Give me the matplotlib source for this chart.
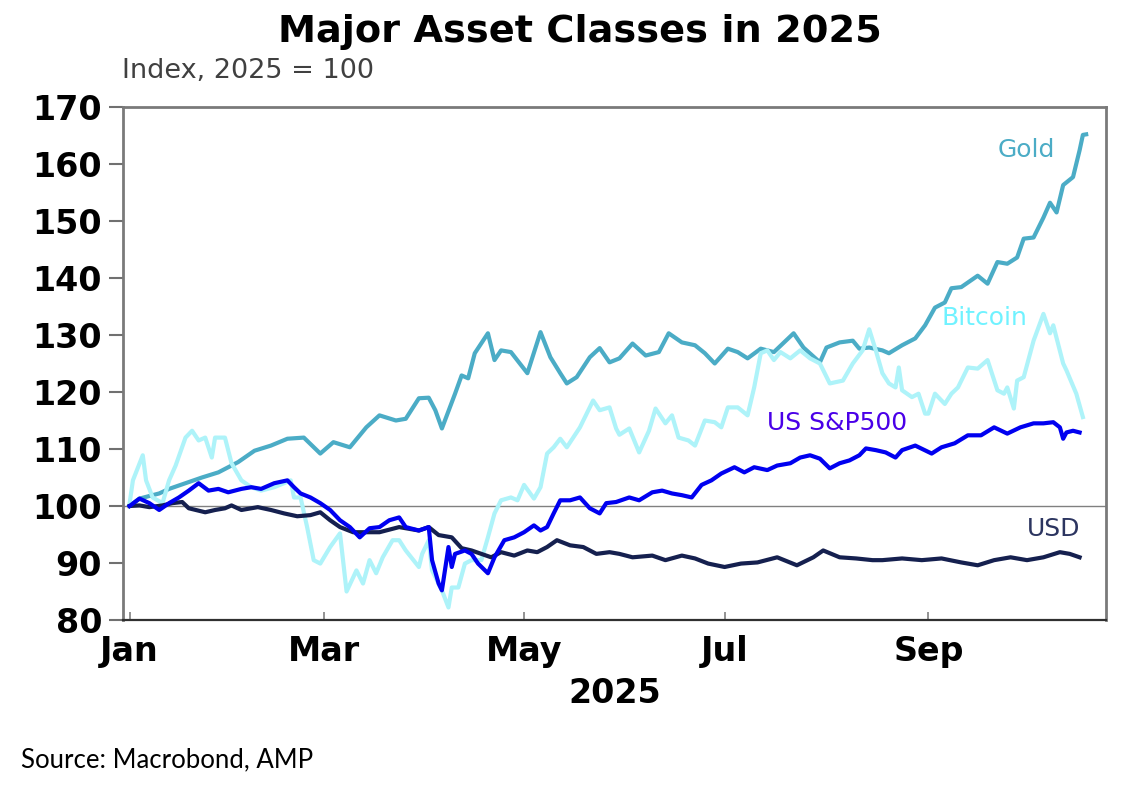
import matplotlib
matplotlib.use("Agg")
import matplotlib.pyplot as plt
import pandas as pd

# values (index, start of 2025 = 100)
gold_dates = ["01-01", "01-04", "01-10", "01-13", "01-18", "01-23", "01-28", "02-03", "02-08",
              "02-13", "02-18", "02-23", "02-28", "03-04", "03-09", "03-14", "03-18", "03-23",
              "03-26", "03-30", "04-02", "04-04", "04-06", "04-10", "04-12", "04-14", "04-16",
              "04-20", "04-22", "04-24", "04-27", "05-02", "05-06", "05-09", "05-12", "05-14",
              "05-17", "05-21", "05-24", "05-27", "05-30", "06-03", "06-07", "06-11", "06-14",
              "06-18", "06-22", "06-25", "06-28", "07-02", "07-05", "07-08", "07-12", "07-16",
              "07-22", "07-25", "07-30", "08-01", "08-05", "08-09", "08-11", "08-14", "08-18",
              "08-20", "08-24", "08-28", "08-31", "09-03", "09-06", "09-08", "09-11", "09-16",
              "09-19", "09-22", "09-25", "09-28", "09-30", "10-03", "10-06", "10-08", "10-10",
              "10-12", "10-15", "10-17", "10-18", "10-19"]
gold = [100.0, 101.3, 102.2, 103.0, 104.0, 105.0, 105.9, 107.7, 109.7,
        110.6, 111.8, 112.0, 109.2, 111.2, 110.3, 113.8, 115.9, 115.0,
        115.3, 118.9, 119.0, 116.8, 113.6, 119.7, 122.9, 122.4, 126.8,
        130.3, 125.6, 127.3, 127.0, 123.3, 130.5, 126.1, 123.3, 121.5,
        122.6, 126.1, 127.7, 125.2, 125.9, 128.5, 126.4, 127.0, 130.3,
        128.7, 128.2, 126.8, 125.0, 127.6, 127.0, 125.9, 127.6, 127.0,
        130.3, 127.8, 125.2, 127.8, 128.7, 129.0, 127.6, 127.8, 127.3,
        126.8, 128.2, 129.4, 131.7, 134.8, 135.7, 138.2, 138.4, 140.4,
        139.0, 142.8, 142.5, 143.6, 146.9, 147.1, 150.6, 153.2, 151.5,
        156.3, 157.7, 162.4, 165.1, 165.2]

btc_dates = ["01-01", "01-02", "01-05", "01-06", "01-08", "01-11", "01-13", "01-15", "01-18",
             "01-20", "01-22", "01-24", "01-26", "01-27", "01-30", "02-01", "02-04", "02-07",
             "02-10", "02-14", "02-17", "02-19", "02-20", "02-22", "02-24", "02-26", "02-28",
             "03-03", "03-06", "03-08", "03-11", "03-13", "03-15", "03-17", "03-19", "03-22",
             "03-24", "03-26", "03-30", "03-31", "04-02", "04-03", "04-06", "04-08", "04-09",
             "04-11", "04-13", "04-15", "04-18", "04-20", "04-22", "04-24", "04-27", "04-29",
             "05-01", "05-04", "05-06", "05-08", "05-10", "05-12", "05-14", "05-18", "05-22",
             "05-24", "05-27", "05-29", "05-30", "06-02", "06-05", "06-08", "06-10", "06-13",
             "06-15", "06-17", "06-20", "06-22", "06-25", "06-28", "06-30", "07-02", "07-05",
             "07-08", "07-10", "07-12", "07-14", "07-16", "07-18", "07-21", "07-24", "07-27",
             "07-30", "08-02", "08-06", "08-09", "08-12", "08-14", "08-16", "08-18", "08-20",
             "08-22", "08-23", "08-24", "08-27", "08-29", "08-31", "09-01", "09-03", "09-06",
             "09-08", "09-10", "09-13", "09-16", "09-19", "09-22", "09-24", "09-25", "09-27",
             "09-28", "09-30", "10-03", "10-06", "10-08", "10-09", "10-12", "10-13", "10-16",
             "10-18"]
btc = [100.5, 104.5, 108.9, 104.5, 101.5, 100.5, 104.5, 107.1, 112.0,
       113.2, 111.5, 112.0, 108.5, 112.0, 112.0, 107.5, 104.5, 103.3,
       102.7, 103.3, 104.0, 104.5, 101.5, 101.5, 96.3, 90.5, 89.9,
       92.8, 95.2, 85.0, 88.7, 86.4, 90.5, 88.2, 91.0, 94.0,
       94.0, 92.2, 89.3, 91.6, 94.0, 88.7, 85.2, 82.2, 85.7,
       85.7, 89.9, 90.5, 90.5, 94.5, 98.7, 101.0, 101.5, 101.0,
       103.7, 101.3, 103.3, 109.2, 110.3, 111.8, 110.3, 113.8, 118.5,
       116.8, 117.3, 113.6, 112.5, 113.6, 109.4, 113.2, 117.1, 114.5,
       115.9, 112.0, 111.5, 110.6, 115.0, 114.7, 113.8, 117.3, 117.3,
       115.9, 120.8, 126.8, 127.3, 125.6, 127.0, 125.9, 127.3, 125.9,
       125.0, 121.5, 122.0, 125.0, 127.3, 131.0, 127.3, 123.3, 121.5,
       120.8, 124.3, 120.3, 119.1, 119.7, 116.2, 116.2, 119.7, 117.9,
       119.7, 120.8, 124.3, 124.1, 125.6, 120.3, 119.7, 120.8, 117.1,
       122.0, 122.6, 129.0, 133.7, 130.3, 131.7, 125.0, 123.8, 119.7,
       115.6]

spx_dates = ["01-01", "01-04", "01-07", "01-10", "01-13", "01-16", "01-19", "01-22", "01-25",
             "01-28", "01-31", "02-04", "02-07", "02-10", "02-14", "02-18", "02-20", "02-22",
             "02-25", "02-28", "03-03", "03-06", "03-09", "03-12", "03-15", "03-18", "03-21",
             "03-24", "03-26", "03-30", "04-02", "04-03", "04-05", "04-06", "04-08", "04-09",
             "04-10", "04-13", "04-15", "04-17", "04-20", "04-22", "04-25", "04-28", "05-01",
             "05-04", "05-06", "05-08", "05-10", "05-12", "05-15", "05-18", "05-21", "05-24",
             "05-26", "05-29", "06-02", "06-05", "06-09", "06-12", "06-15", "06-18", "06-21",
             "06-24", "06-27", "06-30", "07-04", "07-07", "07-10", "07-14", "07-17", "07-21",
             "07-24", "07-27", "07-30", "08-02", "08-05", "08-08", "08-11", "08-13", "08-16",
             "08-19", "08-22", "08-24", "08-28", "09-02", "09-05", "09-09", "09-13", "09-17",
             "09-21", "09-25", "09-29", "10-03", "10-06", "10-09", "10-11", "10-12", "10-13",
             "10-15", "10-17"]
spx = [100.0, 101.3, 100.5, 99.3, 100.5, 101.5, 102.7, 104.0, 102.7,
       103.0, 102.4, 103.0, 103.3, 103.0, 104.0, 104.5, 103.3, 102.2,
       101.5, 100.5, 99.3, 97.5, 96.3, 94.5, 96.1, 96.3, 97.5,
       98.0, 96.3, 95.7, 96.3, 90.5, 86.4, 85.2, 92.8, 89.3,
       91.6, 92.2, 91.6, 89.9, 88.2, 91.0, 94.0, 94.5, 95.4,
       96.6, 95.7, 96.3, 98.7, 101.0, 101.0, 101.5, 99.6, 98.7,
       100.5, 100.7, 101.5, 101.0, 102.4, 102.7, 102.2, 101.9, 101.5,
       103.7, 104.5, 105.7, 106.8, 105.9, 106.8, 106.3, 107.1, 107.5,
       108.5, 108.9, 108.3, 106.6, 107.5, 108.0, 108.9, 110.1, 109.8,
       109.4, 108.5, 109.8, 110.6, 109.2, 110.3, 111.0, 112.4, 112.4,
       113.8, 112.7, 113.8, 114.5, 114.5, 114.7, 113.8, 111.8, 112.9,
       113.2, 112.9]

usd_dates = ["01-01", "01-04", "01-07", "01-11", "01-14", "01-17", "01-19", "01-24", "01-27",
             "01-30", "02-01", "02-04", "02-09", "02-13", "02-17", "02-21", "02-25", "02-28",
             "03-03", "03-06", "03-10", "03-14", "03-18", "03-24", "03-30", "04-02", "04-05",
             "04-09", "04-12", "04-15", "04-18", "04-21", "04-24", "04-28", "05-02", "05-05",
             "05-08", "05-11", "05-15", "05-19", "05-23", "05-27", "05-30", "06-03", "06-09",
             "06-13", "06-18", "06-22", "06-26", "07-01", "07-06", "07-11", "07-17", "07-23",
             "07-28", "07-31", "08-05", "08-10", "08-15", "08-18", "08-24", "08-30", "09-05",
             "09-11", "09-16", "09-21", "09-26", "10-01", "10-06", "10-11", "10-14", "10-17"]
usd = [100.0, 100.1, 99.8, 100.1, 100.5, 100.7, 99.6, 98.9, 99.3,
       99.6, 100.1, 99.3, 99.8, 99.3, 98.7, 98.2, 98.4, 98.9,
       97.5, 96.3, 95.4, 95.4, 95.4, 96.3, 95.7, 96.3, 94.9,
       94.5, 92.6, 92.2, 91.6, 91.0, 91.9, 91.3, 92.2, 91.9,
       92.8, 94.0, 93.1, 92.8, 91.6, 91.9, 91.6, 91.0, 91.3,
       90.5, 91.3, 90.8, 89.9, 89.3, 89.9, 90.1, 91.0, 89.6,
       91.0, 92.2, 91.0, 90.8, 90.5, 90.5, 90.8, 90.5, 90.8,
       90.1, 89.6, 90.5, 91.0, 90.5, 91.0, 91.9, 91.6, 91.0]

x_ticks = ["2025-01-01", "2025-03-01", "2025-05-01", "2025-07-01", "2025-09-01"]
x_ticklabels = ["Jan", "Mar", "May", "Jul", "Sep"]
y_ticks = list(range(80, 171, 10))

GOLD_C = "#4BACC6"
BTC_C = "#AEF3F9"
SPX_C = "#0000F0"
USD_C = "#15204F"

# the reference text is wide, DejaVu Sans is closer to that than Arial
plt.rcParams["font.family"] = ["DejaVu Sans"]


def to_dates(md):
    return pd.to_datetime(["2025-" + d for d in md])


fig = plt.figure(figsize=(11.31, 7.96), dpi=100)
ax = fig.add_axes([0.1088, 0.2211, 0.8690, 0.6445])

ax.axhline(100, color="#808080", linewidth=1.0, zorder=1)
ax.plot(to_dates(gold_dates), gold, color=GOLD_C, linewidth=3.0, zorder=3)
ax.plot(to_dates(btc_dates), btc, color=BTC_C, linewidth=3.0, zorder=4)
ax.plot(to_dates(usd_dates), usd, color=USD_C, linewidth=3.0, zorder=5)
ax.plot(to_dates(spx_dates), spx, color=SPX_C, linewidth=3.0, zorder=6)

ax.set_xlim(pd.Timestamp("2024-12-30"), pd.Timestamp("2025-10-25"))
ax.set_ylim(80, 170)

ax.set_yticks(y_ticks)
ax.set_yticklabels([str(v) for v in y_ticks], fontsize=24, fontweight="bold")
ax.tick_params(axis="y", direction="out", length=10, width=1.5, color="#707070", pad=5)

ax.set_xticks(pd.to_datetime(x_ticks))
ax.set_xticklabels(x_ticklabels, fontsize=24, fontweight="bold")
ax.tick_params(axis="x", direction="in", length=6, width=1.2, color="#808080", pad=11)
ax.set_xlabel("2025", fontsize=24, fontweight="bold", labelpad=6)

for side in ("left", "top", "right"):
    ax.spines[side].set_color("#7a7a7a")
    ax.spines[side].set_linewidth(2.0)
ax.spines["bottom"].set_color("#303030")
ax.spines["bottom"].set_linewidth(1.6)

# series labels placed next to the lines
ax.text(pd.Timestamp("2025-09-22"), 162.4, "Gold", color=GOLD_C, fontsize=18, ha="left", va="center")
ax.text(pd.Timestamp("2025-09-05"), 132.9, "Bitcoin", color="#70F2FF", fontsize=18, ha="left", va="center")
ax.text(pd.Timestamp("2025-07-14"), 114.5, "US S&P500", color="#4A00E8", fontsize=18, ha="left", va="center")
ax.text(pd.Timestamp("2025-10-01"), 95.9, "USD", color="#2C3560", fontsize=18, ha="left", va="center")

fig.text(0.513, 0.960, "Major Asset Classes in 2025", fontsize=27.5, fontweight="bold",
         ha="center", va="center")
fig.text(0.108, 0.911, "Index, 2025 = 100", fontsize=19.5, color="#404040", ha="left", va="center")
fig.text(0.019, 0.045, "Source: Macrobond, AMP", fontsize=18.5, ha="left", va="center",
         family=["Lato", "DejaVu Sans"])

fig.savefig("out.png", dpi=100)
